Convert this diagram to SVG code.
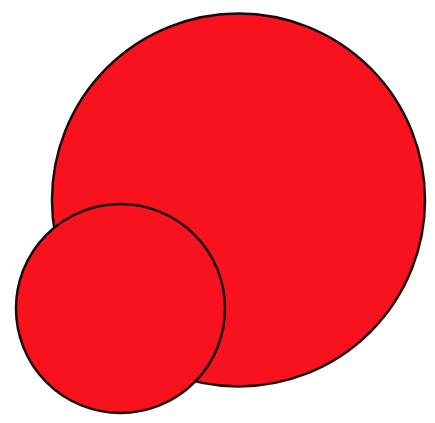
<svg xmlns="http://www.w3.org/2000/svg" width="435" height="423" viewBox="0 0 435 423">
<style>
.c{fill:#f8121e;stroke:#1a0a0a;stroke-width:2.5}
</style>
<rect width="435" height="423" fill="#ffffff"/>
<g id="big"><circle class="c" cx="238.5" cy="200" r="186.5"/></g>
<g id="small"><circle class="c" cx="120.5" cy="308.5" r="104.5"/></g>
</svg>
